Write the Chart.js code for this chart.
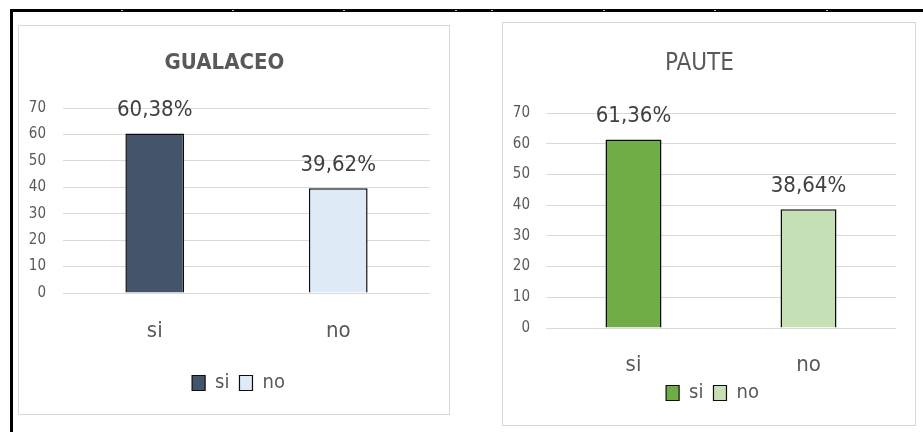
<!DOCTYPE html>
<html lang="es">
<head>
    <meta charset="UTF-8">
    <meta name="viewport" content="width=device-width, initial-scale=1.0">
    <title>Gualaceo y Paute</title>
    <script src="https://cdn.jsdelivr.net/npm/chart.js"></script>
    <style>
        body {
            margin: 0;
            background: #ffffff;
            width: 923px;
            height: 432px;
            overflow: hidden;
            position: relative;
        }
        #frame {
            position: absolute;
            left: 10px;
            top: 9px;
            width: 920px;
            height: 430px;
            border-top: 3px solid #000000;
            border-left: 3px solid #000000;
        }
        .mark {
            position: absolute;
            top: 10px;
            width: 2px;
            height: 1px;
            background: #bfbfbf;
        }
        .chartBox {
            position: absolute;
            border: 1px solid #d9d9d9;
            background: #ffffff;
        }
        #boxGualaceo { left: 18px; top: 25px; width: 430px; height: 388px; }
        #boxPaute { left: 502px; top: 22px; width: 412px; height: 402px; }
        canvas { display: block; }
    </style>
</head>
<body>
    <div id="frame"></div>
    <div class="mark" style="left:121px"></div>
    <div class="mark" style="left:232px"></div>
    <div class="mark" style="left:343px"></div>
    <div class="mark" style="left:455px"></div>
    <div class="mark" style="left:491px"></div>
    <div class="mark" style="left:603px"></div>
    <div class="mark" style="left:714px"></div>
    <div class="mark" style="left:826px"></div>

    <div class="chartBox" id="boxGualaceo"><canvas id="chartGualaceo"></canvas></div>
    <div class="chartBox" id="boxPaute"><canvas id="chartPaute"></canvas></div>

    <script>
        const categories = ['si', 'no'];
        const gualaceoValues = [60.38, 39.62];
        const pauteValues = [61.36, 38.64];
        const yTicks = [0, 10, 20, 30, 40, 50, 60, 70];

        const gualaceoColors = ['#44546a', '#deebf7'];
        const pauteColors = ['#70ad47', '#c5e0b4'];

        const fontFamily = "'Liberation Sans Narrow', 'DejaVu Sans Condensed', 'Liberation Sans', sans-serif";
        const textGray = '#595959';

        // percentage text above each bar, comma as decimal separator
        const barValueLabels = {
            id: 'barValueLabels',
            afterDatasetsDraw(chart) {
                let ctx = chart.ctx;
                let meta = chart.getDatasetMeta(0);
                let values = chart.data.datasets[0].data;
                ctx.save();
                ctx.font = '22px ' + fontFamily;
                ctx.fillStyle = '#404040';
                ctx.textAlign = 'center';
                ctx.textBaseline = 'middle';
                meta.data.forEach((bar, i) => {
                    let text = values[i].toFixed(2).replace('.', ',') + '%';
                    ctx.fillText(text, bar.x, bar.y - 23);
                });
                ctx.restore();
            }
        };

        // nudge the legend row sideways after layout
        const legendShift = {
            id: 'legendShift',
            afterLayout(chart, args, opts) {
                if (chart.legend) {
                    chart.legend.left += opts.dx;
                    chart.legend.right += opts.dx;
                }
            }
        };

        function makeChart(canvasId, box, title, values, colors, layout) {
            let canvas = document.getElementById(canvasId);
            canvas.width = box.w;
            canvas.height = box.h;

            return new Chart(canvas.getContext('2d'), {
                type: 'bar',
                data: {
                    labels: categories,
                    datasets: [{
                        data: values,
                        backgroundColor: colors,
                        borderColor: '#0d0d0d',
                        borderWidth: 1.5,
                        barPercentage: 0.32,
                        categoryPercentage: 1
                    }]
                },
                options: {
                    responsive: false,
                    animation: false,
                    layout: {
                        padding: { left: 0, right: 19, top: 0, bottom: layout.bottomPad }
                    },
                    plugins: {
                        tooltip: { enabled: false },
                        legendShift: { dx: layout.legendDx },
                        title: {
                            display: true,
                            text: title,
                            color: textGray,
                            font: { family: fontFamily, size: layout.titleSize, weight: layout.titleWeight, lineHeight: 1.2 },
                            padding: { top: layout.titleTop, bottom: layout.titleBottom }
                        },
                        legend: {
                            display: true,
                            position: 'bottom',
                            labels: {
                                boxWidth: 13,
                                boxHeight: 15,
                                padding: 10,
                                color: textGray,
                                font: { family: fontFamily, size: 20 },
                                generateLabels: () => categories.map((c, i) => ({
                                    text: c,
                                    fillStyle: colors[i],
                                    strokeStyle: '#0d0d0d',
                                    fontColor: textGray,
                                    lineWidth: 1.2,
                                    hidden: false,
                                    index: i
                                }))
                            },
                            onClick: () => {}
                        }
                    },
                    scales: {
                        x: {
                            grid: { display: false },
                            border: { display: false },
                            ticks: {
                                color: textGray,
                                padding: layout.xPad,
                                font: { family: fontFamily, size: 22 }
                            },
                            afterFit: (scale) => { scale.height = layout.xHeight; }
                        },
                        y: {
                            min: 0,
                            max: 70,
                            afterBuildTicks: (scale) => {
                                scale.ticks = yTicks.map(v => ({ value: v }));
                            },
                            grid: { color: '#d9d9d9', lineWidth: 1, drawTicks: false },
                            border: { display: false },
                            ticks: {
                                color: textGray,
                                padding: layout.yPad,
                                font: { family: fontFamily, size: 15 }
                            },
                            afterFit: (scale) => { scale.width = layout.yWidth; }
                        }
                    }
                },
                plugins: [barValueLabels, legendShift]
            });
        }

        makeChart('chartGualaceo', { w: 430, h: 388 }, 'GUALACEO', gualaceoValues, gualaceoColors, {
            titleSize: 22, titleWeight: 'bold', titleTop: 24.3, titleBottom: 31.3,
            xHeight: 70, xPad: 17, bottomPad: 11, yWidth: 44, yPad: 17, legendDx: 14
        });

        makeChart('chartPaute', { w: 412, h: 402 }, 'PAUTE', pauteValues, pauteColors, {
            titleSize: 24, titleWeight: 'normal', titleTop: 26.6, titleBottom: 34.6,
            xHeight: 45, xPad: 16, bottomPad: 12, yWidth: 43, yPad: 16, legendDx: 13
        });
    </script>
</body>
</html>
